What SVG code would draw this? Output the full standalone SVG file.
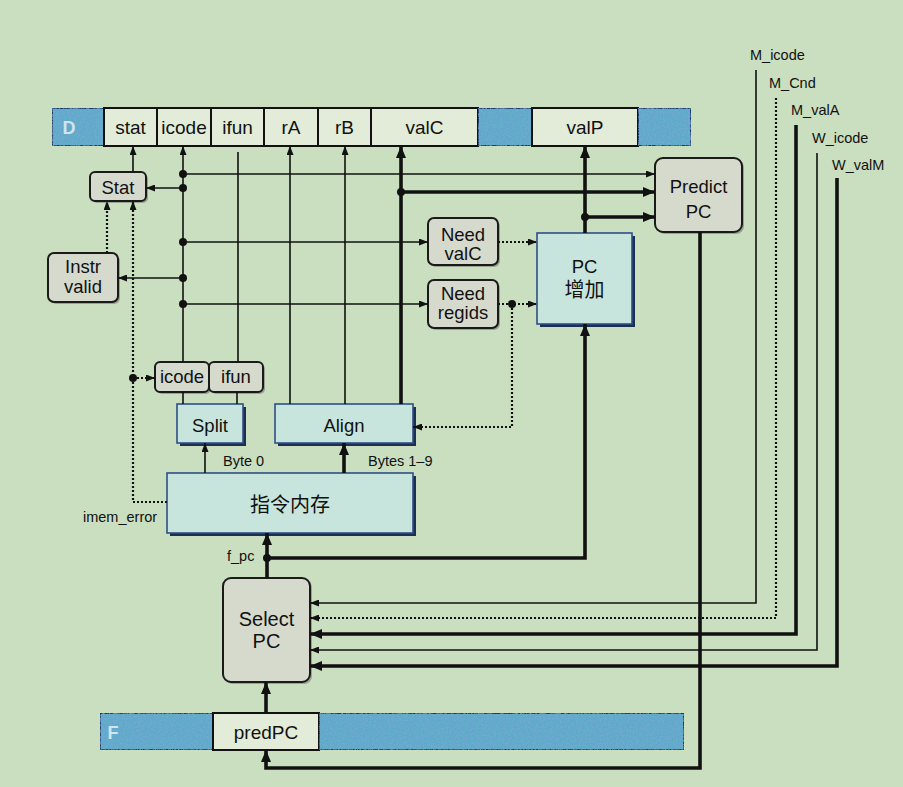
<svg xmlns="http://www.w3.org/2000/svg" width="903" height="787" viewBox="0 0 903 787">
<defs>
<style>
.bg{fill:#cadfbf}
.cell{fill:#e2ecd8;stroke:#111;stroke-width:2}
.blue{fill:#5eaac6;stroke:#1c3a66;stroke-width:2;filter:url(#tex)}
.gray{fill:#d6dacd;stroke:#1a1a1a;stroke-width:2}
.gshadow{fill:#6e716a;opacity:0.55}
.cyan{fill:#c7e5dd;stroke:#2c4f86;stroke-width:1.6}
.cshadow{fill:#1d2e52}
text{font-family:"Liberation Sans",Arial,sans-serif;fill:#111;text-anchor:middle}
.reg{font-size:19px}
.lbl{font-size:18.5px}
.sm{font-size:14.5px;text-anchor:start}
.cjk{font-family:"Liberation Sans","Noto Sans CJK SC",sans-serif;font-size:20px}
.regname{font-size:18px;font-weight:bold;fill:#cfe6ef}
.thin{fill:none;stroke:#111;stroke-width:1.6}
.thick{fill:none;stroke:#111;stroke-width:3.6}
.dot{fill:none;stroke:#111;stroke-width:2.2;stroke-dasharray:2 2}
.jn{fill:#111}
</style>
<filter id="tex" x="0" y="0" width="100%" height="100%">
<feTurbulence type="fractalNoise" baseFrequency="0.6" numOctaves="2" seed="4" result="n"/>
<feColorMatrix in="n" type="matrix" values="0 0 0 0 0.2  0 0 0 0 0.4  0 0 0 0 0.75  0 0 0 1.6 -0.6" result="m"/>
<feComposite in="m" in2="SourceGraphic" operator="in" result="c"/>
<feMerge><feMergeNode in="SourceGraphic"/><feMergeNode in="c"/></feMerge>
</filter>
<marker id="at" markerUnits="userSpaceOnUse" markerWidth="9" markerHeight="7" refX="9" refY="3.5" orient="auto"><path d="M0,0 L9,3.5 L0,7 z" fill="#111"/></marker>
<marker id="ak" markerUnits="userSpaceOnUse" markerWidth="12" markerHeight="10" refX="12" refY="5" orient="auto"><path d="M0,0 L12,5 L0,10 z" fill="#111"/></marker>
</defs>
<rect class="bg" x="0" y="0" width="903" height="787"/>

<g id="regD">
<rect class="blue" x="52" y="108" width="52" height="38"/>
<text class="regname" x="69" y="134">D</text>
<rect class="cell" x="104" y="108" width="53" height="38"/><text class="reg" x="130.5" y="134">stat</text>
<rect class="cell" x="157" y="108" width="54" height="38"/><text class="reg" x="184" y="134">icode</text>
<rect class="cell" x="211" y="108" width="53" height="38"/><text class="reg" x="237.5" y="134">ifun</text>
<rect class="cell" x="264" y="108" width="54" height="38"/><text class="reg" x="291" y="134">rA</text>
<rect class="cell" x="318" y="108" width="53" height="38"/><text class="reg" x="344.5" y="134">rB</text>
<rect class="cell" x="371" y="108" width="107" height="38"/><text class="reg" x="424.5" y="134">valC</text>
<rect class="blue" x="478" y="108" width="54" height="38"/>
<rect class="cell" x="532" y="108" width="106" height="38"/><text class="reg" x="585" y="134">valP</text>
<rect class="blue" x="638" y="108" width="53" height="38"/>
</g>

<g id="regF">
<rect class="blue" x="100" y="713" width="113" height="37"/>
<text class="regname" x="113" y="739">F</text>
<rect class="cell" x="213" y="713" width="106" height="37"/><text class="reg" x="266" y="739">predPC</text>
<rect class="blue" x="319" y="713" width="365" height="37"/>
</g>

<g id="stat">
<rect class="gshadow" x="92" y="174" width="56" height="29" rx="5"/>
<rect class="gray" x="90" y="172" width="56" height="29" rx="5"/>
<text class="lbl" x="118" y="194">Stat</text>
</g>

<g id="instrValid">
<rect class="gshadow" x="50" y="255" width="70" height="49" rx="6"/>
<rect class="gray" x="48" y="253" width="70" height="49" rx="6"/>
<text class="lbl" x="83" y="273">Instr</text>
<text class="lbl" x="83" y="293">valid</text>
</g>

<g id="needValC">
<rect class="gshadow" x="430" y="220" width="70" height="47" rx="6"/>
<rect class="gray" x="428" y="218" width="70" height="47" rx="6"/>
<text class="lbl" x="463" y="241">Need</text>
<text class="lbl" x="463" y="260">valC</text>
</g>

<g id="needRegids">
<rect class="gshadow" x="430" y="282" width="70" height="48" rx="6"/>
<rect class="gray" x="428" y="280" width="70" height="48" rx="6"/>
<text class="lbl" x="463" y="300">Need</text>
<text class="lbl" x="463" y="319">regids</text>
</g>

<g id="pcInc">
<rect class="cshadow" x="540" y="236" width="95" height="91"/>
<rect class="cyan" x="537" y="233" width="95" height="91"/>
<text class="lbl" x="584.5" y="273">PC</text>
<text class="cjk" x="584.5" y="297">增加</text>
</g>

<g id="predictPC">
<rect class="gshadow" x="657" y="160" width="87" height="74" rx="8"/>
<rect class="gray" x="655" y="158" width="87" height="74" rx="8"/>
<text class="lbl" x="698.5" y="193">Predict</text>
<text class="lbl" x="698.5" y="218">PC</text>
</g>

<g id="icodeIfun">
<rect class="gshadow" x="157" y="364" width="54" height="30" rx="5"/>
<rect class="gray" x="155" y="362" width="54" height="30" rx="5"/>
<text class="lbl" x="182" y="383">icode</text>
<rect class="gshadow" x="211" y="364" width="54" height="30" rx="5"/>
<rect class="gray" x="209" y="362" width="54" height="30" rx="5"/>
<text class="lbl" x="236" y="383">ifun</text>
</g>

<g id="split">
<rect class="cshadow" x="180" y="407" width="66" height="39"/>
<rect class="cyan" x="177" y="404" width="66" height="39"/>
<text class="lbl" x="210" y="432">Split</text>
</g>

<g id="align">
<rect class="cshadow" x="278" y="407" width="138" height="39"/>
<rect class="cyan" x="275" y="404" width="138" height="39"/>
<text class="lbl" x="344" y="432">Align</text>
</g>

<g id="imem">
<rect class="cshadow" x="170" y="476" width="246" height="60"/>
<rect class="cyan" x="167" y="473" width="246" height="60"/>
<text class="cjk" x="290" y="512">指令内存</text>
</g>

<g id="selectPC">
<rect class="gshadow" x="225" y="580" width="87" height="104" rx="8"/>
<rect class="gray" x="223" y="578" width="87" height="104" rx="8"/>
<text class="lbl" x="266.5" y="626" style="font-size:20px">Select</text>
<text class="lbl" x="266.5" y="648" style="font-size:20px">PC</text>
</g>

<g id="labels">
<text class="sm" x="223" y="466">Byte 0</text>
<text class="sm" x="368" y="466">Bytes 1–9</text>
<text class="sm" x="83" y="522">imem_error</text>
<text class="sm" x="227" y="561">f_pc</text>
<text class="sm" x="750" y="60">M_icode</text>
<text class="sm" x="769" y="88">M_Cnd</text>
<text class="sm" x="791" y="115">M_valA</text>
<text class="sm" x="812" y="143">W_icode</text>
<text class="sm" x="832" y="170">W_valM</text>
</g>

<g id="connectors">
<path class="thin" d="M133,172 V146" marker-end="url(#at)"/>
<path class="thin" d="M183,362 V146" marker-end="url(#at)"/>
<path class="thin" d="M238,362 V152"/>
<path class="thin" d="M290,404 V146" marker-end="url(#at)"/>
<path class="thin" d="M345,404 V146" marker-end="url(#at)"/>
<path class="thin" d="M183,174 H655" marker-end="url(#at)"/>
<path class="thin" d="M183,188 H146" marker-end="url(#at)"/>
<path class="thin" d="M183,242 H428" marker-end="url(#at)"/>
<path class="thin" d="M183,278 H118" marker-end="url(#at)"/>
<path class="thin" d="M183,304 H428" marker-end="url(#at)"/>
<path class="thin" d="M183,392 V404"/>
<path class="thin" d="M237,392 V404"/>
<path class="thin" d="M205,473 V443" marker-end="url(#at)"/>
<path class="thin" d="M756,70 V603 H310" marker-end="url(#at)"/>
<path class="thin" d="M817,153 V650 H310" marker-end="url(#at)"/>

<path class="thick" d="M401,404 V146" marker-end="url(#ak)"/>
<path class="thick" d="M401,192 H655" marker-end="url(#ak)"/>
<path class="thick" d="M585,233 V146" marker-end="url(#ak)"/>
<path class="thick" d="M585,217 H655" marker-end="url(#ak)"/>
<path class="thick" d="M344,473 V443" marker-end="url(#ak)"/>
<path class="thick" d="M267,578 V533" marker-end="url(#ak)"/>
<path class="thick" d="M267,558 H585 V324" marker-end="url(#ak)"/>
<path class="thick" d="M796,125 V634 H310" marker-end="url(#ak)"/>
<path class="thick" d="M837,178 V666 H310" marker-end="url(#ak)"/>
<path class="thick" d="M700,232 V768 H266 V750" marker-end="url(#ak)"/>
<path class="thick" d="M266,713 V682" marker-end="url(#ak)"/>

<path class="dot" d="M107,253 V201" marker-end="url(#at)"/>
<path class="dot" d="M167,502 H133 V201" marker-end="url(#at)"/>
<path class="dot" d="M133,378 H155" marker-end="url(#at)"/>
<path class="dot" d="M498,242 H537" marker-end="url(#at)"/>
<path class="dot" d="M498,304 H537" marker-end="url(#at)"/>
<path class="dot" d="M512,304 V427 H413" marker-end="url(#at)"/>
<path class="dot" d="M776,98 V618 H310" marker-end="url(#at)"/>

<circle class="jn" cx="183" cy="174" r="4"/>
<circle class="jn" cx="183" cy="188" r="4"/>
<circle class="jn" cx="183" cy="242" r="4"/>
<circle class="jn" cx="183" cy="278" r="4"/>
<circle class="jn" cx="183" cy="304" r="4"/>
<circle class="jn" cx="401" cy="192" r="4"/>
<circle class="jn" cx="585" cy="217" r="4"/>
<circle class="jn" cx="133" cy="378" r="4"/>
<circle class="jn" cx="512" cy="304" r="4"/>
<circle class="jn" cx="267" cy="558" r="4"/>
</g>
</svg>
